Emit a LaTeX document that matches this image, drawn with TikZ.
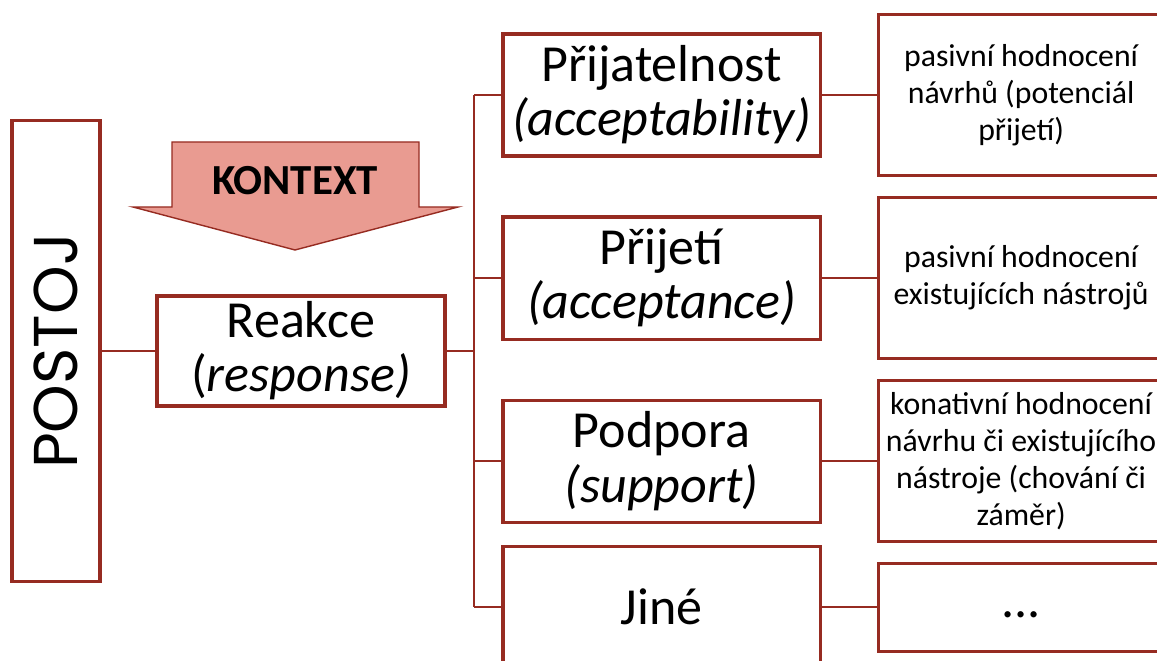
\documentclass[tikz,border=0pt]{standalone}
\usepackage{fontspec}
\setmainfont{Carlito}
\newfontfamily\postojfont{Poppins}
\usetikzlibrary{positioning}
\definecolor{boxred}{RGB}{150,43,33}
\definecolor{arrowfill}{RGB}{233,155,145}

\begin{document}
\begin{tikzpicture}[x=0.025cm,y=-0.025cm,node distance=1.45cm,
  box/.style={draw=boxred,line width=2.2pt,fill=white,inner sep=0pt,outer sep=0pt,align=center},
  mid/.style={box,minimum width=7.925cm,minimum height=3.05cm,font=\fontsize{37}{38.5}\selectfont},
  desc/.style={box,minimum width=7.15cm,minimum height=4.025cm,font=\fontsize{22.6}{26.3}\selectfont},
  link/.style={draw=boxred,line width=1.3pt}]
\clip (0,0) rectangle (1157,661);

\node[box,rotate=90,minimum width=11.525cm,minimum height=2.2cm,font=\postojfont\fontsize{44}{48}\selectfont] (postoj) at (56,351) {POSTOJ};
\node[box,minimum width=7.2cm,minimum height=2.75cm,font=\fontsize{37}{38.5}\selectfont] (reakce) at (301,351) {Reakce\\(\textit{response)}};

\node[mid] (prijatelnost) at (661.5,95) {Přijatelnost\\\textit{(acceptability)}};
\node[mid,below=1.525cm of prijatelnost] (prijeti) {Přijetí\\\textit{(acceptance)}};
\node[mid,below=1.525cm of prijeti] (podpora) {Podpora\\\textit{(support)}};
\node[mid,below=0.6cm of podpora] (jine) {Jiné};

\node[desc,right=of prijatelnost] (pasivni1) {pasivní hodnocení\\návrhů (potenciál\\přijetí)};
\node[desc,right=of prijeti] (pasivni2) {pasivní hodnocení\\existujících nástrojů};
\node[desc,right=of podpora] (konativni) {konativní hodnocení\\návrhu či existujícího\\nástroje (chování či\\záměr)};
\node[desc,right=of jine,minimum height=2.2cm,font=\fontsize{37}{38.5}\selectfont] (ostatni) {\strut...};

\filldraw[fill=arrowfill,draw=boxred,line width=1pt] (172,142) -- (419,142) -- (419,207) -- (458,207) -- (295,250) -- (133,207) -- (172,207) -- cycle;
\node[font=\bfseries\fontsize{30.5}{32}\selectfont] (kontext) at (295,181) {KONTEXT};

\coordinate (trunk) at (474,351);
\draw[link] (postoj.south) -- (reakce.west);
\draw[link] (reakce.east) -- (trunk);
\draw[link] (trunk |- prijatelnost.west) -- (trunk |- jine.west);
\foreach \m/\d in {prijatelnost/pasivni1,prijeti/pasivni2,podpora/konativni,jine/ostatni} {
  \draw[link] (trunk |- \m.west) -- (\m.west);
  \draw[link] (\m.east) -- (\m.east -| \d.west);
}
\end{tikzpicture}
\end{document}
